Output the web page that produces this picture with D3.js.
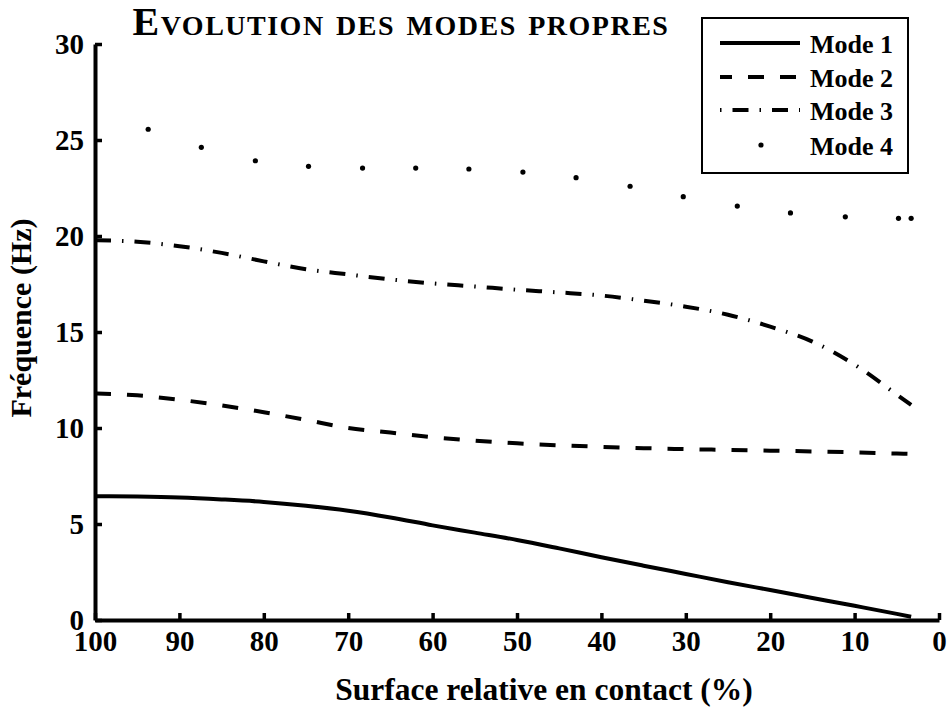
<!DOCTYPE html>
<html>
<head>
<meta charset="utf-8">
<script src="https://cdn.jsdelivr.net/npm/d3@7"></script>
<style>
  html, body { margin: 0; padding: 0; background: #fff; }
  svg { display: block; font-family: "Liberation Serif", "Times New Roman", serif; font-weight: bold; }
</style>
</head>
<body>
<svg id="chart" width="949" height="707"></svg>
<script>
// Relative contact surface (%) for the continuous modes
const surface = [100, 95, 90, 85, 80, 75, 70, 65, 60, 55, 50, 45, 40, 35, 30, 25, 20, 15, 10, 5, 3.3];
// Eigenfrequencies (Hz)
const mode1 = [6.45, 6.43, 6.38, 6.28, 6.15, 5.95, 5.69, 5.34, 4.93, 4.55, 4.17, 3.73, 3.27, 2.83, 2.40, 1.97, 1.56, 1.15, 0.74, 0.32, 0.17];
const mode2 = [11.8, 11.7, 11.47, 11.18, 10.82, 10.42, 10.0, 9.76, 9.52, 9.34, 9.2, 9.1, 9.02, 8.95, 8.9, 8.86, 8.82, 8.78, 8.73, 8.67, 8.65];
const mode3 = [19.78, 19.7, 19.47, 19.12, 18.68, 18.27, 18.0, 17.74, 17.53, 17.37, 17.2, 17.06, 16.9, 16.63, 16.32, 15.9, 15.28, 14.5, 13.3, 11.74, 11.2];
// Mode 4 is sampled at discrete contact states
const surface4 = [93.7, 87.4, 81.0, 74.7, 68.3, 62.0, 55.7, 49.3, 43.0, 36.6, 30.3, 23.9, 17.6, 11.1, 4.8, 3.3];
const mode4 = [25.56, 24.62, 23.92, 23.63, 23.54, 23.54, 23.49, 23.33, 23.04, 22.59, 22.05, 21.56, 21.2, 21.0, 20.92, 20.92];

const xTicks = [100, 90, 80, 70, 60, 50, 40, 30, 20, 10, 0];
const yTicks = [0, 5, 10, 15, 20, 25, 30];
const seriesNames = ["Mode 1", "Mode 2", "Mode 3", "Mode 4"];

const svg = d3.select("#chart");
const x = d3.scaleLinear().domain([100, 0]).range([95, 939]);
const y = d3.scaleLinear().domain([0, 30]).range([620, 44]);

// Axes: ticks point into the plot area
const xAxis = d3.axisBottom(x).tickValues(xTicks).tickSizeInner(-7).tickSizeOuter(0).tickPadding(10).tickFormat(d3.format("d"));
const yAxis = d3.axisLeft(y).tickValues(yTicks).tickSizeInner(-7).tickSizeOuter(0).tickPadding(11).tickFormat(d3.format("d"));

const gx = svg.append("g").attr("transform", `translate(0,${y(0)})`).call(xAxis);
const gy = svg.append("g").attr("transform", `translate(${x(100)},0)`).call(yAxis);
[gx, gy].forEach(g => {
  g.select(".domain").attr("stroke", "#000").attr("stroke-width", 4);
  g.selectAll(".tick line").attr("stroke", "#000").attr("stroke-width", 3.5);
  g.selectAll(".tick text").attr("fill", "#000").style("font-size", "29px").style("font-family", "Liberation Serif").style("font-weight", "bold");
});
gx.selectAll(".tick text").attr("dy", "0.72em");

// Curves
const pts = vals => surface.map((s, i) => [s, vals[i]]);
const line = d3.line().x(d => x(d[0])).y(d => y(d[1])).curve(d3.curveMonotoneX);

const dashes = [null, "16,16", "16,11,1.5,11"];
[mode1, mode2, mode3].forEach((vals, i) => {
  svg.append("path")
    .datum(pts(vals))
    .attr("d", line)
    .attr("fill", "none")
    .attr("stroke", "#000")
    .attr("stroke-width", 4)
    .attr("stroke-dasharray", dashes[i]);
});

svg.append("g").selectAll("circle")
  .data(surface4.map((s, i) => [s, mode4[i]]))
  .join("circle")
  .attr("cx", d => x(d[0]))
  .attr("cy", d => y(d[1]))
  .attr("r", 2.6)
  .attr("fill", "#000");

// Title
svg.append("text")
  .attr("x", 401).attr("y", 35)
  .attr("text-anchor", "middle")
  .style("font-size", "40px")
  .style("letter-spacing", "1.5px")
  .style("font-variant", "small-caps")
  .text("Evolution des modes propres");

// Axis titles
svg.append("text")
  .attr("x", 544).attr("y", 700)
  .attr("text-anchor", "middle")
  .style("font-size", "31.5px")
  .text("Surface relative en contact (%)");

svg.append("text")
  .attr("transform", "translate(31,318) rotate(-90)")
  .attr("text-anchor", "middle")
  .style("font-size", "30px")
  .text("Fréquence (Hz)");

// Legend
const leg = svg.append("g");
leg.append("rect")
  .attr("x", 702).attr("y", 18).attr("width", 206).attr("height", 155)
  .attr("fill", "#fff").attr("stroke", "#000").attr("stroke-width", 2);
const rowY = [43, 77, 110, 145];
const legOffset = [0, 4, 27];
seriesNames.forEach((name, i) => {
  if (i < 3) {
    leg.append("line")
      .attr("x1", 720).attr("x2", 800)
      .attr("y1", rowY[i]).attr("y2", rowY[i])
      .attr("stroke", "#000").attr("stroke-width", 4)
      .attr("stroke-dasharray", dashes[i])
      .attr("stroke-dashoffset", legOffset[i]);
  } else {
    leg.append("circle").attr("cx", 761).attr("cy", rowY[i]).attr("r", 2.6).attr("fill", "#000");
  }
  leg.append("text")
    .attr("x", 810).attr("y", rowY[i] + 10)
    .style("font-size", "26px")
    .text(name);
});
</script>
</body>
</html>
